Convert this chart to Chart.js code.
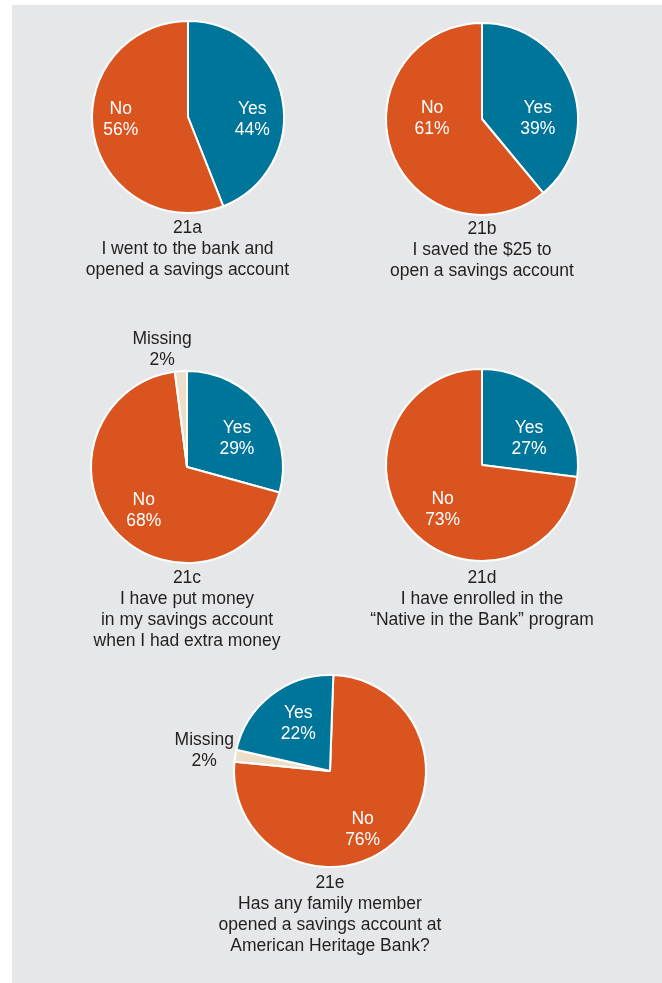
<!DOCTYPE html>
<html>
<head>
<meta charset="utf-8">
<script src="https://cdn.jsdelivr.net/npm/chart.js@4/dist/chart.umd.min.js"></script>
<style>
  html, body { margin: 0; padding: 0; background: #fff; }
  body { width: 662px; height: 983px; position: relative; overflow: hidden;
         font-family: "Liberation Sans", Arial, Helvetica, sans-serif; }
  #panel { position: absolute; left: 12px; top: 5px; width: 650px; height: 978px; background: #e6e7e8; }
  .pie { position: absolute; }
  .caption { position: absolute; width: 320px; text-align: center; color: #231f20;
             font-size: 17.5px; line-height: 21px; white-space: nowrap; }
</style>
</head>
<body>
<div id="panel"></div>
<script>
// survey item 21, one pie per question
const pieIds = ['21a', '21b', '21c', '21d', '21e'];
const captions = [
  ['I went to the bank and', 'opened a savings account'],
  ['I saved the $25 to', 'open a savings account'],
  ['I have put money', 'in my savings account', 'when I had extra money'],
  ['I have enrolled in the', '\u201cNative in the Bank\u201d program'],
  ['Has any family member', 'opened a savings account at', 'American Heritage Bank?'],
];
const sliceLabels = [
  ['Yes', 'No'],
  ['Yes', 'No'],
  ['Yes', 'No', 'Missing'],
  ['Yes', 'No'],
  ['No', 'Missing', 'Yes'],
];
const sliceValues = [
  [44, 56],
  [39, 61],
  [29, 68, 2],
  [27, 73],
  [76, 2, 22],
];

const COLORS = { Yes: '#00759a', No: '#d9541e', Missing: '#ebdfca' };
const INSIDE_TEXT = { Yes: '#ffffff', No: '#ffffff', Missing: '#231f20' };

// page layout: pie centre, start angle, label anchors (fractions of the radius)
const layout = [
  { cx: 187.5, cy: 116.5, rot: 0, cap: 216.5, anchors: [[0.67, 0.03], [-0.70, 0.03]] },
  { cx: 482, cy: 119, rot: 0, cap: 217.5, anchors: [[0.58, 0.0], [-0.52, 0.0]] },
  { cx: 187, cy: 467, rot: 0, cap: 566.5, anchors: [[0.52, -0.30], [-0.45, 0.45], [-0.26, -1.22]] },
  { cx: 482, cy: 465, rot: 0, cap: 567, anchors: [[0.49, -0.27], [-0.41, 0.47]] },
  { cx: 330, cy: 770.5, rot: 2, cap: 871.5, anchors: [[0.34, 0.61], [-1.31, -0.21], [-0.33, -0.49]] },
];

const CW = 340, CH = 300, R = 96, BORDER = 2;

const sliceText = {
  id: 'sliceText',
  afterDatasetsDraw(chart, args, opts) {
    const ctx = chart.ctx;
    const meta = chart.getDatasetMeta(0);
    const ds = chart.data.datasets[0];
    ctx.save();
    ctx.font = '17.5px "Liberation Sans", Arial, sans-serif';
    ctx.textAlign = 'center';
    ctx.textBaseline = 'middle';
    meta.data.forEach((arc, i) => {
      const lab = chart.data.labels[i];
      const a = opts.anchors[i];
      const x = arc.x + a[0] * arc.outerRadius;
      const y = arc.y + a[1] * arc.outerRadius;
      const outside = Math.hypot(a[0], a[1]) > 1;
      ctx.fillStyle = outside ? '#231f20' : INSIDE_TEXT[lab];
      ctx.fillText(lab, x, y - 10.5);
      ctx.fillText(ds.data[i] + '%', x, y + 10.5);
    });
    ctx.restore();
  }
};

pieIds.forEach((id, k) => {
  const L = layout[k];
  const box = document.createElement('div');
  box.className = 'pie';
  box.style.left = (L.cx - CW / 2) + 'px';
  box.style.top = (L.cy - CH / 2) + 'px';
  const canvas = document.createElement('canvas');
  canvas.width = CW; canvas.height = CH;
  canvas.style.width = CW + 'px'; canvas.style.height = CH + 'px';
  box.appendChild(canvas);
  document.body.appendChild(box);

  const padX = (CW - 2 * R - BORDER) / 2, padY = (CH - 2 * R - BORDER) / 2;
  new Chart(canvas, {
    type: 'pie',
    data: {
      labels: sliceLabels[k],
      datasets: [{
        data: sliceValues[k],
        backgroundColor: sliceLabels[k].map(l => COLORS[l]),
        borderColor: '#ffffff',
        borderWidth: BORDER,
      }],
    },
    options: {
      responsive: false,
      animation: false,
      rotation: L.rot,
      layout: { padding: { left: padX, right: padX, top: padY, bottom: padY } },
      plugins: {
        legend: { display: false },
        tooltip: { enabled: false },
        sliceText: { anchors: L.anchors },
      },
    },
    plugins: [sliceText],
  });

  const cap = document.createElement('div');
  cap.className = 'caption';
  cap.style.left = (L.cx - 160) + 'px';
  cap.style.top = L.cap + 'px';
  cap.innerHTML = [id].concat(captions[k]).map(s => '<div>' + s + '</div>').join('');
  document.body.appendChild(cap);
});
</script>
</body>
</html>
